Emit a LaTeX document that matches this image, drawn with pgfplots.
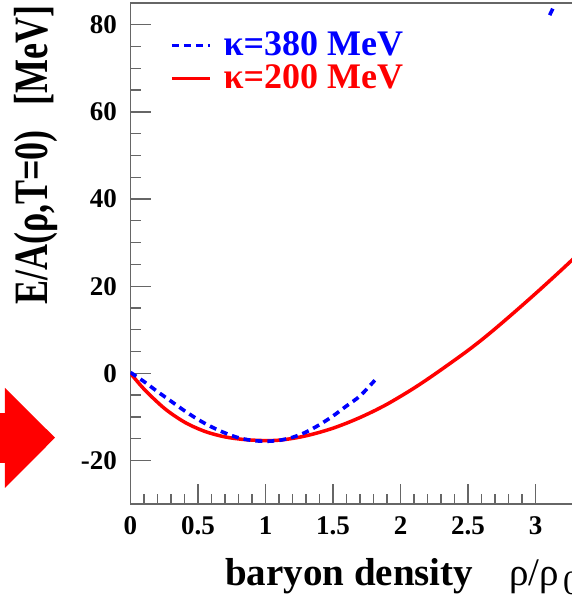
\documentclass[border=0pt]{standalone}
\usepackage{pgfplots}
\pgfplotsset{compat=1.18}
\usepackage{graphicx}
\usepackage{fontspec}
\setmainfont{Liberation Serif}

\pgfplotstableread{
x y
0.000 0.0
0.107 -3.85
0.256 -8.17
0.404 -11.28
0.552 -13.35
0.700 -14.60
0.848 -15.22
1.000 -15.45
1.100 -15.35
1.200 -14.95
1.300 -14.35
1.400 -13.55
1.500 -12.60
1.600 -11.45
1.700 -10.15
1.800 -8.70
1.900 -7.10
2.000 -5.30
2.100 -3.40
2.200 -1.35
2.300 0.80
2.400 3.00
2.500 5.25
2.600 7.65
2.700 10.20
2.800 12.85
2.900 15.55
3.000 18.30
3.100 21.10
3.200 23.95
3.300 26.85
3.350 28.30
}\kappaLow

\pgfplotstableread{
x y
0.000 0.2
0.100 -1.9
0.200 -4.2
0.300 -6.4
0.400 -8.6
0.500 -10.6
0.600 -12.3
0.700 -13.7
0.800 -14.8
0.900 -15.4
1.000 -15.6
1.100 -15.4
1.200 -14.7
1.300 -13.5
1.400 -11.8
1.500 -9.8
1.600 -7.5
1.700 -5.2
1.810 -1.6
}\kappaHigh

\pgfplotstableread{
x y
3.105 82.2
3.128 83.7
}\kappaHighTop

\begin{document}
\begin{tikzpicture}
\begin{axis}[
  scale only axis,
  width=445.5pt, height=501pt,
  xmin=0, xmax=3.3, ymin=-30, ymax=85,
  xtick={0,0.5,1,1.5,2,2.5,3},
  ytick={-20,0,20,40,60,80},
  minor x tick num=4, minor y tick num=3,
  xtick pos=left, ytick pos=left,
  tick align=inside,
  major tick length=20pt, minor tick length=10pt,
  axis line style={draw=black!60, line width=1.3pt},
  tick style={black!60, line width=1.3pt},
  /pgf/number format/assume math mode=true,
  ticklabel style={font=\fontsize{27}{30}\selectfont\bfseries, inner sep=0pt},
  yticklabel shift=13.5pt, xticklabel shift=12pt,
  xlabel={\bfseries baryon density\hspace{36pt}{\mdseries ρ/ρ\hspace{4pt}\raisebox{-9pt}{\fontsize{34}{36}\selectfont 0}}},
  xlabel style={font=\fontsize{39}{45}\selectfont, at={(axis description cs:0.2121,-0.1617)}, anchor=base west, inner sep=0pt},
  ylabel={\scalebox{1}[1.33]{\bfseries E/A(ρ,T=0)\hspace{25pt}[MeV]}},
  ylabel style={font=\fontsize{36}{40}\selectfont, at={(axis description cs:-0.1874,0.996)}, anchor=base east, inner sep=0pt},
  legend style={draw=none, fill=none, at={(axis description cs:0.0887,0.9427)}, anchor=north west,
    font=\fontsize{36}{40}\selectfont\bfseries, row sep=7.5pt, inner sep=0pt, outer sep=0pt,
    nodes={inner sep=0pt}, column sep=0pt},
  legend image code/.code={\draw[#1] (0pt,-1pt) -- (38pt,-1pt); \path (50pt,0pt);},
  legend cell align=left,
  reverse legend,
]
\addplot[red, line width=3.5pt, smooth] table[x=x,y=y] {\kappaLow};
\addlegendentry{\textcolor{red}{κ=200 MeV}}
\addplot[blue, line width=3.6pt, dash pattern=on 7pt off 5pt, smooth] table[x=x,y=y] {\kappaHigh};
\addlegendentry{\textcolor{blue}{κ=380 MeV}}
\addplot[blue, line width=3.6pt, forget plot] table[x=x,y=y] {\kappaHighTop};
\coordinate (O) at (rel axis cs:0,0);
\end{axis}
\fill[red] ([shift={(-140pt,41pt)}]O) rectangle ([shift={(-125.5pt,91pt)}]O);
\fill[red] ([shift={(-125.5pt,116pt)}]O) -- ([shift={(-125.5pt,16pt)}]O) -- ([shift={(-75.5pt,66.3pt)}]O) -- cycle;
\pgfresetboundingbox
\useasboundingbox ([shift={(-130.5pt,-97pt)}]O) rectangle ([shift={(440.5pt,504pt)}]O);
\end{tikzpicture}
\end{document}
